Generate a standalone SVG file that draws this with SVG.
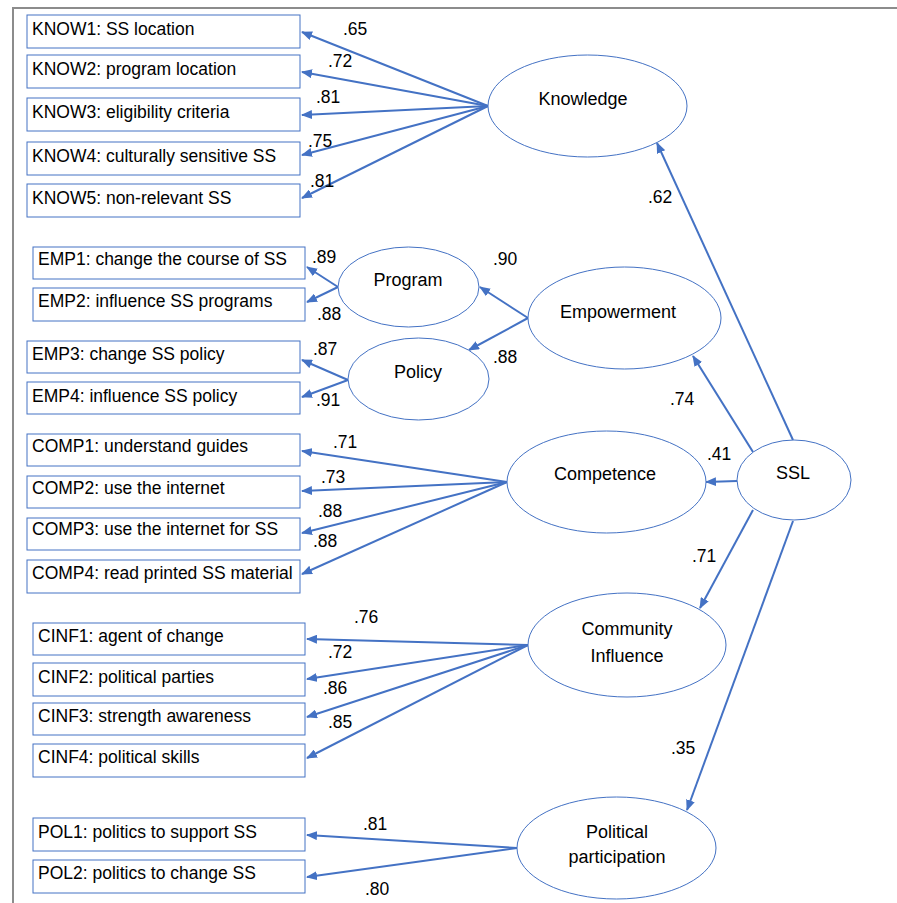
<svg xmlns="http://www.w3.org/2000/svg" width="897" height="903" viewBox="0 0 897 903">
<defs>
<marker id="ah" markerUnits="userSpaceOnUse" markerWidth="11" markerHeight="9" refX="10" refY="4.5" orient="auto">
<path d="M0,0 L11,4.5 L0,9 z" fill="#4472C4"/>
</marker>
<style>
.box{fill:#fff;stroke:#4472C4;stroke-width:1}
.ell{fill:#fff;stroke:#4472C4;stroke-width:1}
.t{font-family:"Liberation Sans",Arial,sans-serif;font-size:17.5px;fill:#000}
.c{text-anchor:middle;font-size:18px}
.e{stroke:#4472C4;stroke-width:2;fill:none;marker-end:url(#ah)}
</style>
</defs>
<rect width="897" height="903" fill="#fff"/>
<path d="M13,903 L13,8 L897,8" fill="none" stroke="#8c8c8c" stroke-width="2"/>

<g id="connectors">
<line class="e" x1="488" y1="106" x2="302" y2="32"/>
<line class="e" x1="488" y1="106" x2="302" y2="72"/>
<line class="e" x1="488" y1="106" x2="302" y2="115"/>
<line class="e" x1="488" y1="106" x2="302" y2="155"/>
<line class="e" x1="488" y1="106" x2="302" y2="198"/>
<line class="e" x1="338" y1="287" x2="307" y2="267"/>
<line class="e" x1="338" y1="287" x2="307" y2="302"/>
<line class="e" x1="348" y1="380" x2="302" y2="360"/>
<line class="e" x1="348" y1="380" x2="302" y2="397"/>
<line class="e" x1="528" y1="318" x2="480" y2="287"/>
<line class="e" x1="528" y1="318" x2="469" y2="350"/>
<line class="e" x1="507" y1="482" x2="302" y2="451"/>
<line class="e" x1="507" y1="482" x2="302" y2="491"/>
<line class="e" x1="507" y1="482" x2="302" y2="533"/>
<line class="e" x1="507" y1="482" x2="302" y2="574"/>
<line class="e" x1="528" y1="645" x2="307" y2="639"/>
<line class="e" x1="528" y1="645" x2="307" y2="679"/>
<line class="e" x1="528" y1="645" x2="307" y2="717"/>
<line class="e" x1="528" y1="645" x2="307" y2="758"/>
<line class="e" x1="517" y1="848" x2="307" y2="835"/>
<line class="e" x1="517" y1="848" x2="307" y2="877"/>
<line class="e" x1="793" y1="440" x2="657" y2="143"/>
<line class="e" x1="753" y1="452" x2="693" y2="356"/>
<line class="e" x1="737" y1="481" x2="706" y2="482"/>
<line class="e" x1="753" y1="510" x2="700" y2="608"/>
<line class="e" x1="793" y1="521" x2="687" y2="810"/>
</g>

<g id="labels" class="t">
<text x="343" y="35">.65</text>
<text x="328" y="67">.72</text>
<text x="316" y="103">.81</text>
<text x="308" y="147">.75</text>
<text x="310" y="187">.81</text>
<text x="648" y="203">.62</text>
<text x="312" y="263">.89</text>
<text x="317" y="320">.88</text>
<text x="313" y="355">.87</text>
<text x="316" y="406">.91</text>
<text x="493" y="265">.90</text>
<text x="493" y="363">.88</text>
<text x="670" y="405">.74</text>
<text x="707" y="460">.41</text>
<text x="333" y="448">.71</text>
<text x="321" y="483">.73</text>
<text x="318" y="517">.88</text>
<text x="313" y="547">.88</text>
<text x="692" y="562">.71</text>
<text x="354" y="623">.76</text>
<text x="328" y="658">.72</text>
<text x="323" y="694">.86</text>
<text x="328" y="728">.85</text>
<text x="671" y="754">.35</text>
<text x="363" y="830">.81</text>
<text x="365" y="895">.80</text>
</g>

<g id="KNOW1"><rect class="box" x="27" y="15" width="273" height="33"/><text class="t" x="32" y="35">KNOW1: SS location</text></g>
<g id="KNOW2"><rect class="box" x="27" y="55" width="273" height="33"/><text class="t" x="32" y="75">KNOW2: program location</text></g>
<g id="KNOW3"><rect class="box" x="27" y="98" width="273" height="33"/><text class="t" x="32" y="118">KNOW3: eligibility criteria</text></g>
<g id="KNOW4"><rect class="box" x="27" y="142" width="273" height="33"/><text class="t" x="32" y="162">KNOW4: culturally sensitive SS</text></g>
<g id="KNOW5"><rect class="box" x="27" y="184" width="273" height="33"/><text class="t" x="32" y="204">KNOW5: non-relevant SS</text></g>

<g id="EMP1"><rect class="box" x="33" y="247" width="272" height="32"/><text class="t" x="38" y="265">EMP1: change the course of SS</text></g>
<g id="EMP2"><rect class="box" x="33" y="288" width="272" height="33"/><text class="t" x="38" y="307">EMP2: influence SS programs</text></g>
<g id="EMP3"><rect class="box" x="27" y="341" width="273" height="32"/><text class="t" x="32" y="360">EMP3: change SS policy</text></g>
<g id="EMP4"><rect class="box" x="27" y="382" width="273" height="32"/><text class="t" x="32" y="402">EMP4: influence SS policy</text></g>

<g id="COMP1"><rect class="box" x="27" y="434" width="273" height="32"/><text class="t" x="32" y="452">COMP1: understand guides</text></g>
<g id="COMP2"><rect class="box" x="27" y="476" width="273" height="32"/><text class="t" x="32" y="494">COMP2: use the internet</text></g>
<g id="COMP3"><rect class="box" x="27" y="518" width="273" height="32"/><text class="t" x="32" y="535">COMP3: use the internet for SS</text></g>
<g id="COMP4"><rect class="box" x="27" y="560" width="273" height="33"/><text class="t" x="32" y="579">COMP4: read printed SS material</text></g>

<g id="CINF1"><rect class="box" x="33" y="623" width="272" height="32"/><text class="t" x="38" y="642">CINF1: agent of change</text></g>
<g id="CINF2"><rect class="box" x="33" y="663" width="272" height="33"/><text class="t" x="38" y="683">CINF2: political parties</text></g>
<g id="CINF3"><rect class="box" x="33" y="703" width="272" height="32"/><text class="t" x="38" y="722">CINF3: strength awareness</text></g>
<g id="CINF4"><rect class="box" x="33" y="744" width="272" height="33"/><text class="t" x="38" y="763">CINF4: political skills</text></g>

<g id="POL1"><rect class="box" x="33" y="818" width="272" height="33"/><text class="t" x="38" y="838">POL1: politics to support SS</text></g>
<g id="POL2"><rect class="box" x="33" y="860" width="272" height="33"/><text class="t" x="38" y="879">POL2: politics to change SS</text></g>

<g id="Knowledge"><ellipse class="ell" cx="587.5" cy="106" rx="99.5" ry="51"/><text class="t c" x="583" y="105">Knowledge</text></g>
<g id="Program"><ellipse class="ell" cx="408.5" cy="287" rx="70.5" ry="40"/><text class="t c" x="408" y="286">Program</text></g>
<g id="Policy"><ellipse class="ell" cx="418.5" cy="379" rx="70.5" ry="41"/><text class="t c" x="418" y="378">Policy</text></g>
<g id="Empowerment"><ellipse class="ell" cx="624.5" cy="318" rx="96.5" ry="51"/><text class="t c" x="618" y="318">Empowerment</text></g>
<g id="Competence"><ellipse class="ell" cx="606.5" cy="482" rx="99.5" ry="51"/><text class="t c" x="605" y="480">Competence</text></g>
<g id="SSL"><ellipse class="ell" cx="794" cy="480" rx="57" ry="40"/><text class="t c" x="793" y="479">SSL</text></g>
<g id="CommunityInfluence"><ellipse class="ell" cx="627" cy="645" rx="99" ry="52"/><text class="t c" x="627" y="635">Community</text><text class="t c" x="627" y="662">Influence</text></g>
<g id="PoliticalParticipation"><ellipse class="ell" cx="616.5" cy="848" rx="99.5" ry="51"/><text class="t c" x="617" y="838">Political</text><text class="t c" x="617" y="863">participation</text></g>
</svg>
